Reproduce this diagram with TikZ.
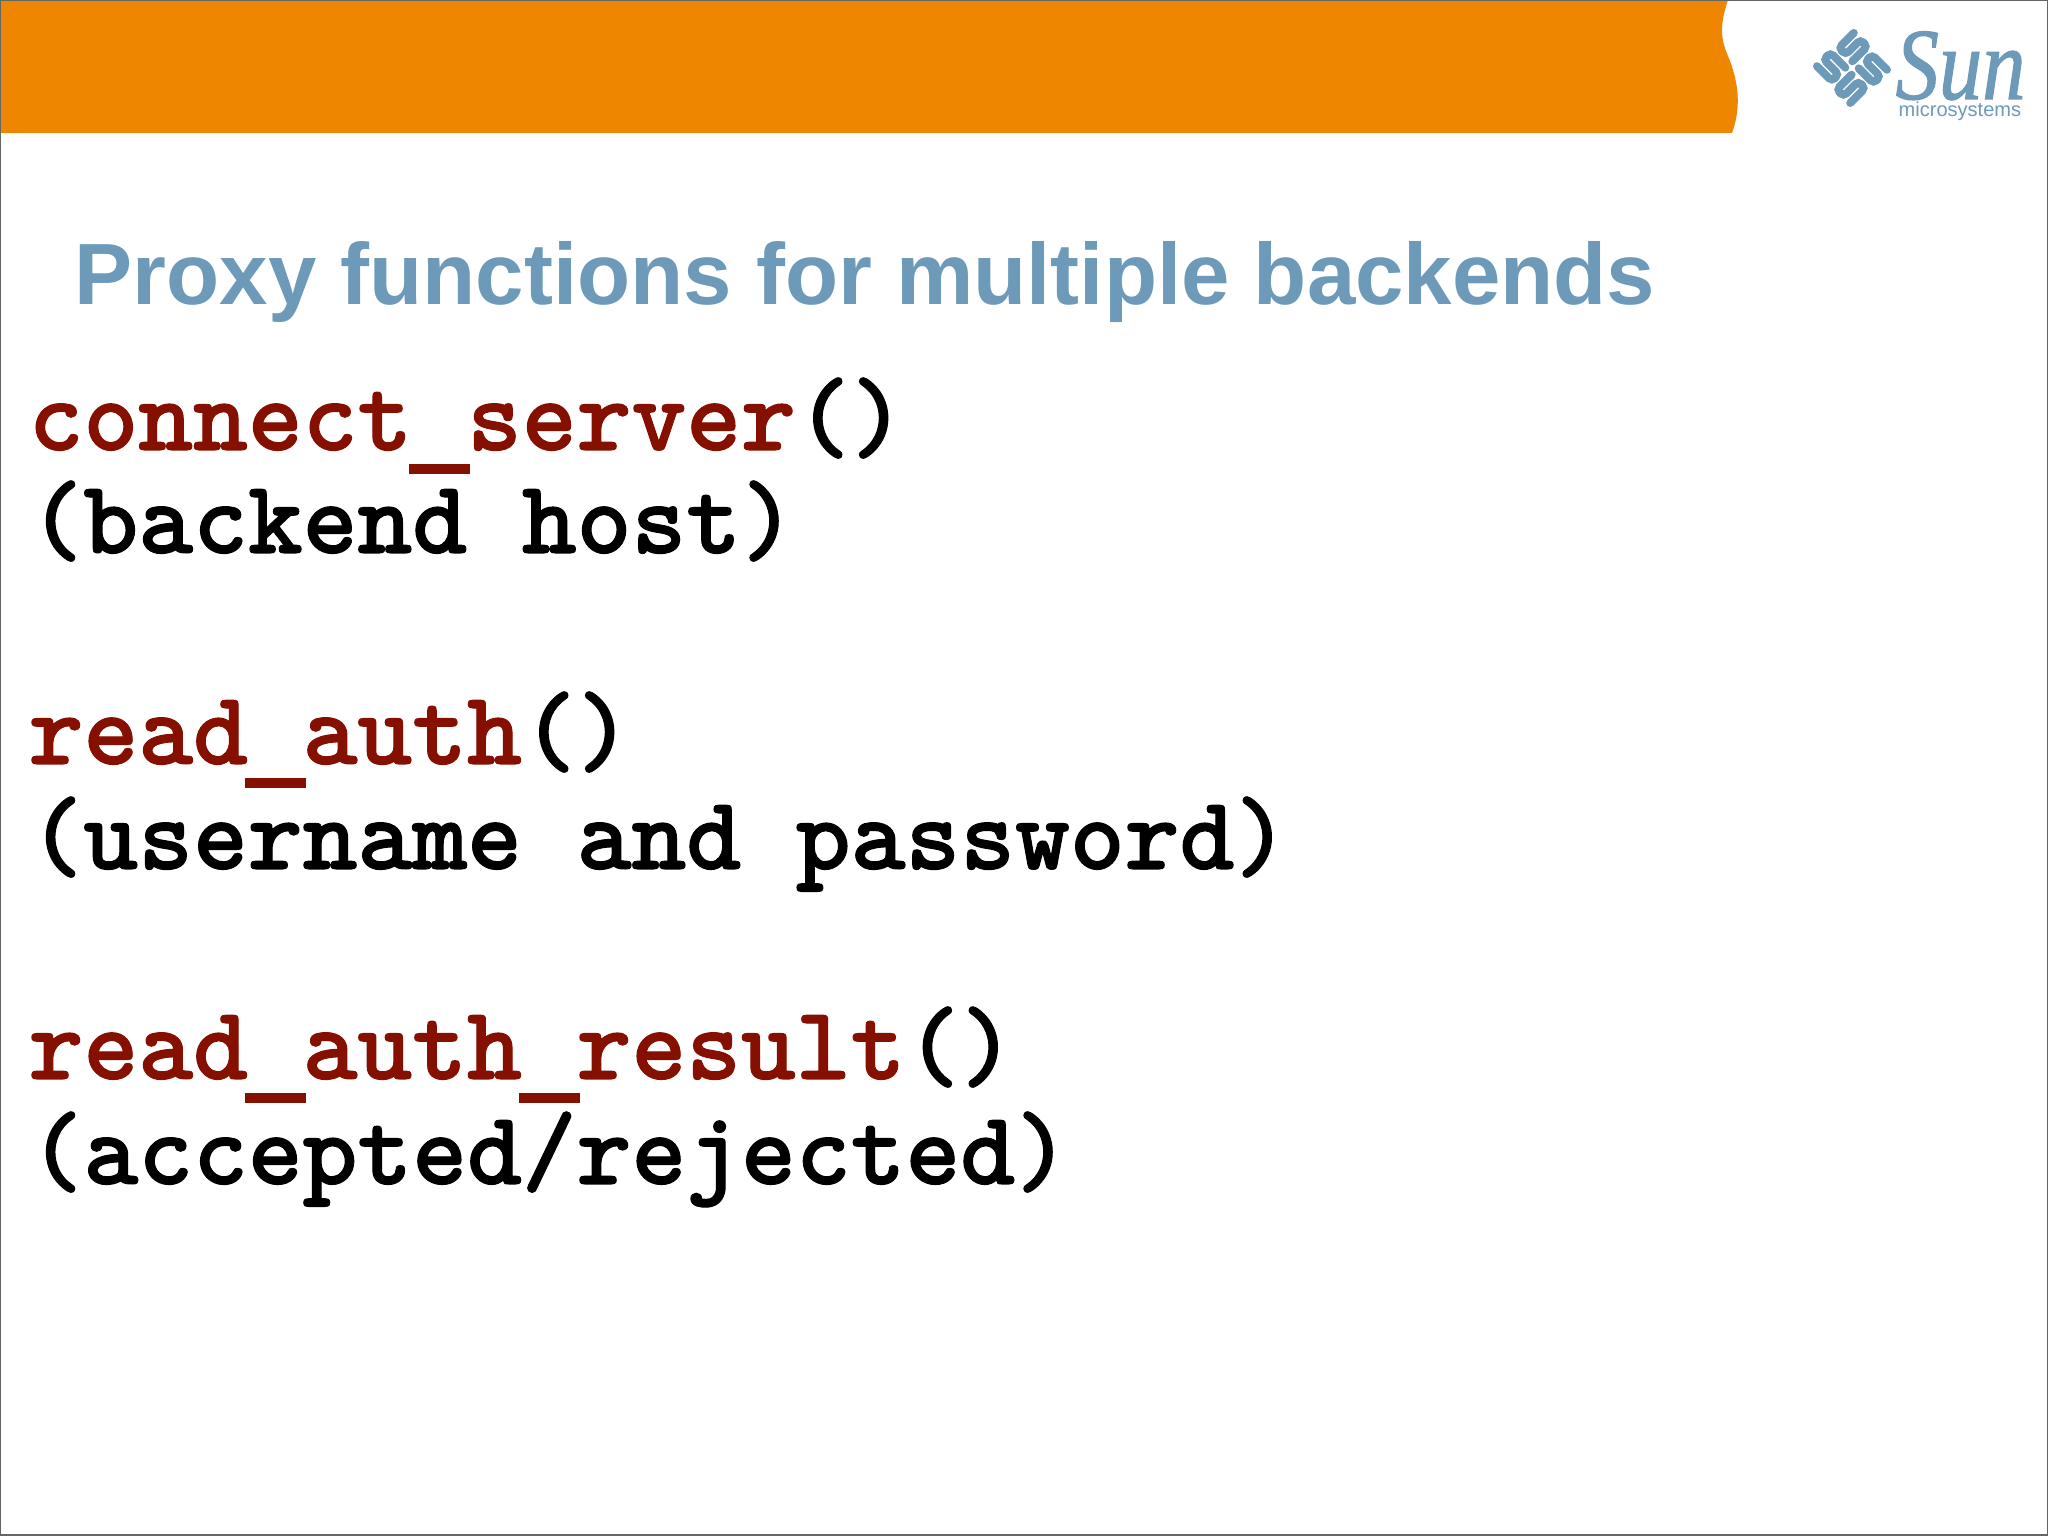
\documentclass[tikz,border=0pt]{standalone}
\usepackage{fontspec}
\setmainfont{Liberation Sans}
\newfontfamily\serifit[FakeBold=1.2]{Liberation Serif}
\newfontfamily\codefont[FakeBold=1]{lmmonolt10-bold.otf}
\newcommand{\codeus}{\makebox[0.525em]{\rule[-0.24cm]{0.61cm}{0.1cm}}}
\definecolor{sunorange}{HTML}{EE8600}
\definecolor{sunblue}{HTML}{6C9AB8}
\definecolor{funcred}{HTML}{851000}
\definecolor{framegray}{HTML}{666666}
\begin{document}
\begin{tikzpicture}[
    title/.style={anchor=base west, inner sep=0pt, text=sunblue, font=\fontsize{24.75}{24.75}\selectfont\bfseries},
    code/.style={anchor=base west, inner sep=0pt, font=\codefont\fontsize{29.7}{29.7}\selectfont},
    logotube/.style={draw=sunblue, line width=0.08cm, rounded corners=0.04cm, line cap=round}
]
\useasboundingbox (0,0) rectangle (20.48,15.36);
\fill[white] (0,0) rectangle (20.48,15.36);

% orange band
\fill[sunorange] (0,15.36) -- (17.28,15.36) .. controls (17.2,15.12) and (17.2,14.98) .. (17.28,14.8)
    .. controls (17.38,14.56) and (17.42,14.3) .. (17.32,14.03) -- (0,14.03) -- cycle;

% logo
\foreach \a in {45,135,225,315} {
    \begin{scope}[shift={(18.52,14.68)}, rotate=\a]
        \draw[logotube] (0.05,0.045) -- (0.26,0.045) -- (0.26,0.14) -- (0.05,0.14) -- (0.05,0.235) -- (0.26,0.235);
    \end{scope}
}
\node[anchor=base west, inner sep=0pt, xscale=0.85, text=sunblue, font=\serifit\itshape\fontsize{29}{29}\selectfont] (sun) at (18.95,14.37) {Sun};
\node[anchor=base west, inner sep=0pt, text=sunblue, font=\fontsize{5.7}{5.7}\selectfont] (micro) at (18.98,14.19) {microsystems};

\node[title] (heading) at (0.74,12.31) {Proxy functions for multiple backends};

\node[code] (connect) at (0.28,10.86) {\textcolor{funcred}{connect\codeus server}()};
\node[code] (host) at (0.28,9.83) {(backend host)};
\node[code] (auth) at (0.28,7.72) {\textcolor{funcred}{read\codeus auth}()};
\node[code] (user) at (0.28,6.67) {(username and password)};
\node[code] (result) at (0.28,4.57) {\textcolor{funcred}{read\codeus auth\codeus result}()};
\node[code] (accepted) at (0.28,3.52) {(accepted/rejected)};

% frame
\draw[framegray, line width=0.03cm] (0,0) rectangle (20.48,15.36);
\end{tikzpicture}
\end{document}
